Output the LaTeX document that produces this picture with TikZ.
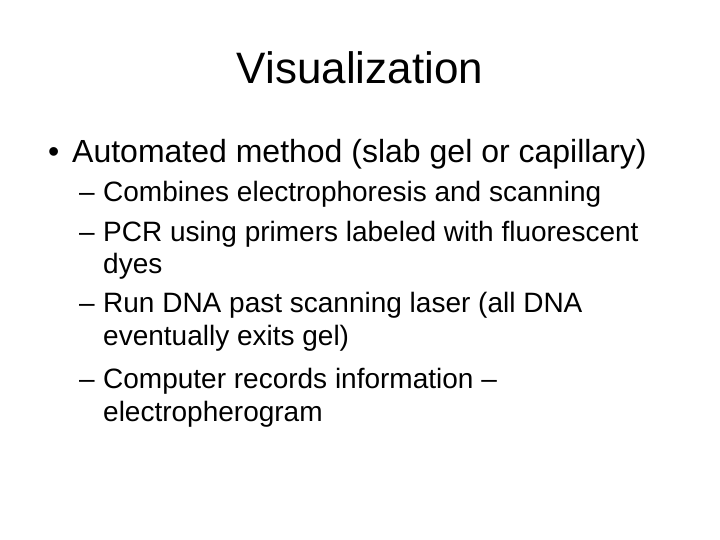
\documentclass[tikz,border=0pt]{standalone}
\usepackage{fontspec}
\setmainfont{Liberation Sans}
\usepackage{tikz}

\begin{document}
\begin{tikzpicture}[x=1pt, y=-1pt, every node/.style={inner sep=0pt, anchor=base west},
    lvlone/.style={font=\fontsize{32}{38}\selectfont},
    lvltwo/.style={font=\fontsize{28}{34}\selectfont}]
    \useasboundingbox (0, 0) rectangle (720, 540);
    \path (360, 84) node[anchor=base, font=\fontsize{44}{52}\selectfont](title) {Visualization};
    \path (48, 163) node[lvlone](dot) {\textbullet} (72, 163) node[lvlone](auto) {Automated method (slab gel or capillary)};
    \path (79, 202) node[lvltwo](d1) {--} (103, 202) node[lvltwo](comb) {Combines electrophoresis and scanning};
    \path (79, 241) node[lvltwo](d2) {--} (103, 241) node[lvltwo](pcr) {PCR using primers labeled with fluorescent};
    \path (103, 273) node[lvltwo](dyes) {dyes};
    \path (79, 312) node[lvltwo](d3) {--} (103, 312) node[lvltwo](run) {Run DNA past scanning laser (all DNA};
    \path (103, 345) node[lvltwo](event) {eventually exits gel)};
    \path (79, 388) node[lvltwo](d4) {--} (103, 388) node[lvltwo](comp) {Computer records information --};
    \path (103, 421) node[lvltwo](elec) {electropherogram};
\end{tikzpicture}
\end{document}
